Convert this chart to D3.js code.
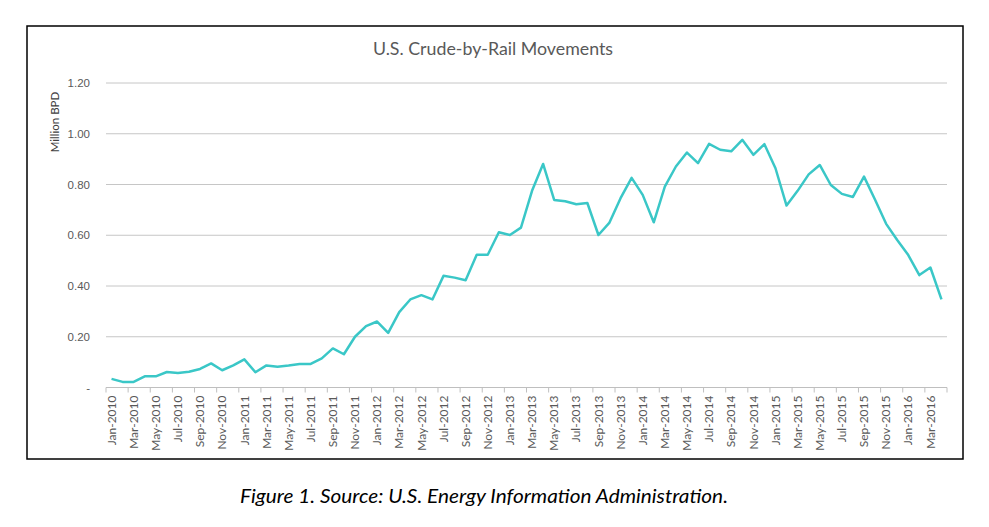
<!DOCTYPE html>
<html>
<head>
<meta charset="utf-8">
<script src="https://cdn.jsdelivr.net/npm/d3@7"></script>
<style>
  body { margin: 0; background: #fff; }
  svg { display: block; }
</style>
</head>
<body>
<div id="chart"></div>
<script>
// monthly categories, Jan-2010 .. Apr-2016
const months = d3.utcMonth.range(new Date(Date.UTC(2010, 0, 1)), new Date(Date.UTC(2016, 4, 1)));
const fmtMonth = d3.utcFormat("%b-%Y");
const categories = months.map(fmtMonth);

// million barrels per day
const movements = [
  0.034, 0.022, 0.022, 0.044, 0.044, 0.061, 0.057, 0.062, 0.073, 0.095, 0.068, 0.087,
  0.111, 0.060, 0.087, 0.082, 0.087, 0.093, 0.093, 0.115, 0.154, 0.131, 0.200, 0.242,
  0.260, 0.215, 0.297, 0.347, 0.364, 0.347, 0.440, 0.433, 0.423, 0.523, 0.523, 0.612,
  0.601, 0.630, 0.775, 0.881, 0.739, 0.734, 0.722, 0.727, 0.601, 0.650, 0.746, 0.826,
  0.759, 0.651, 0.792, 0.871, 0.926, 0.884, 0.960, 0.937, 0.931, 0.976, 0.917, 0.959,
  0.864, 0.717, 0.775, 0.840, 0.877, 0.798, 0.763, 0.751, 0.831, 0.740, 0.645, 0.581,
  0.522, 0.443, 0.473, 0.347
];

const yTicks = [0, 0.2, 0.4, 0.6, 0.8, 1.0, 1.2];
const yTickLabels = ["-", "0.20", "0.40", "0.60", "0.80", "1.00", "1.20"];

const W = 989, H = 527;
const frame = { x: 27, y: 26, w: 936, h: 433 };
const plot = { left: 106, right: 947, top: 83, bottom: 387.5 };

const svg = d3.select("#chart").append("svg")
  .attr("width", W)
  .attr("height", H)
  .style("font-family", "Lato, 'Open Sans', sans-serif");

// outer border of the chart object
svg.append("rect")
  .attr("x", frame.x).attr("y", frame.y)
  .attr("width", frame.w).attr("height", frame.h)
  .attr("fill", "#fff")
  .attr("stroke", "#000")
  .attr("stroke-width", 1.5);

const x = d3.scaleBand()
  .domain(categories)
  .range([plot.left, plot.right])
  .padding(0);

const y = d3.scaleLinear()
  .domain([0, 1.2])
  .range([plot.bottom, plot.top]);

// gridlines
svg.append("g")
  .selectAll("line")
  .data(yTicks.filter(d => d > 0))
  .join("line")
  .attr("x1", plot.left)
  .attr("x2", plot.right)
  .attr("y1", d => y(d))
  .attr("y2", d => y(d))
  .attr("stroke", "#c6c6c6")
  .attr("stroke-width", 1);

// y axis labels
const yAxis = d3.axisLeft(y)
  .tickValues(yTicks)
  .tickSize(0)
  .tickPadding(16)
  .tickFormat((d, i) => yTickLabels[i]);

svg.append("g")
  .attr("transform", `translate(${plot.left},0)`)
  .call(yAxis)
  .call(g => g.select(".domain").remove())
  .call(g => g.selectAll("text")
    .attr("fill", "#595959")
    .style("font-size", "11.5px"));

// x axis: tick marks between every second month, labels on the month
const xAxisG = svg.append("g")
  .attr("transform", `translate(0,${plot.bottom})`);

xAxisG.append("line")
  .attr("x1", plot.left).attr("x2", plot.right)
  .attr("stroke", "#bfbfbf")
  .attr("stroke-width", 1);

const tickCats = categories.filter((d, i) => i % 2 === 0);
const tickPos = tickCats.map(d => x(d)).concat([plot.right]);

xAxisG.selectAll("line.tick")
  .data(tickPos)
  .join("line")
  .attr("class", "tick")
  .attr("x1", d => d).attr("x2", d => d)
  .attr("y1", 0).attr("y2", 5)
  .attr("stroke", "#bfbfbf");

xAxisG.selectAll("text")
  .data(tickCats)
  .join("text")
  .attr("transform", d => `translate(${x(d) + x.bandwidth() / 2},8) rotate(-90)`)
  .attr("dy", "0.35em")
  .attr("text-anchor", "end")
  .attr("fill", "#595959")
  .style("font-size", "12px")
  .text(d => d);

// the series
const line = d3.line()
  .x((d, i) => x(categories[i]) + x.bandwidth() / 2)
  .y(d => y(d));

svg.append("path")
  .datum(movements)
  .attr("d", line)
  .attr("fill", "none")
  .attr("stroke", "#3ac7c7")
  .attr("stroke-width", 2.5)
  .attr("stroke-linejoin", "round");

// title
svg.append("text")
  .attr("x", 493)
  .attr("y", 55)
  .attr("text-anchor", "middle")
  .attr("fill", "#595959")
  .style("font-size", "17.8px")
  .text("U.S. Crude-by-Rail Movements");

// y axis title
svg.append("text")
  .attr("transform", "translate(59,122) rotate(-90)")
  .attr("text-anchor", "middle")
  .attr("fill", "#404040")
  .style("font-size", "11.5px")
  .text("Million BPD");

// caption under the chart
svg.append("text")
  .attr("x", 484)
  .attr("y", 503)
  .attr("text-anchor", "middle")
  .attr("fill", "#000")
  .attr("textLength", 488)
  .attr("lengthAdjust", "spacingAndGlyphs")
  .style("font-size", "19.5px")
  .style("font-style", "italic")
  .text("Figure 1. Source: U.S. Energy Information Administration.");
</script>
</body>
</html>
